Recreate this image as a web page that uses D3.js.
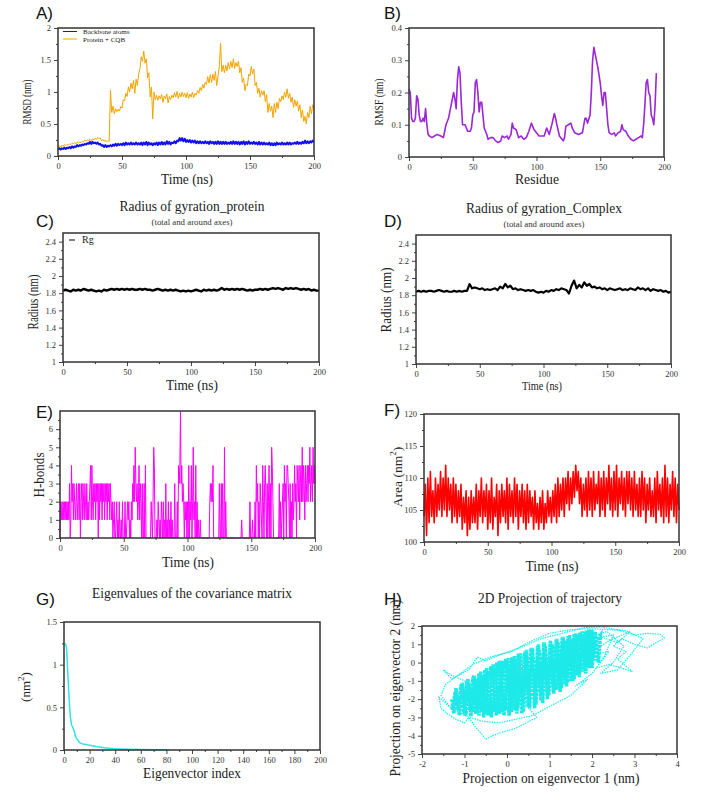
<!DOCTYPE html>
<html>
<head>
<meta charset="utf-8">
<script src="https://cdn.jsdelivr.net/npm/d3@7"></script>
<style>
body { margin: 0; background: #fff; }
.tick text { font-family: "Liberation Serif", "Times New Roman", serif; font-size: 8.5px; fill: #333; }
.tick line { stroke: #444; }
.domain { display: none; }
.frame { fill: none; stroke: #333; stroke-width: 1.5; }
.ax-title { font-family: "Liberation Serif", "Times New Roman", serif; font-size: 15px; fill: #222; text-anchor: middle; }
.plab { font-family: "Liberation Sans", Arial, sans-serif; font-size: 17px; fill: #111; }
.ptitle { font-family: "Liberation Serif", "Times New Roman", serif; font-size: 15px; fill: #222; text-anchor: middle; }
.psub { font-family: "Liberation Serif", "Times New Roman", serif; font-size: 7.5px; fill: #333; text-anchor: middle; }
.leg { font-family: "Liberation Serif", "Times New Roman", serif; font-size: 7px; fill: #222; }
</style>
</head>
<body>
<svg id="fig" width="704" height="800"></svg>
<script>
// ---- data ----
// A) RMSD, one value per ns (0..200)
var rmsdBackbone = [
    0.10,0.12,0.10,0.12,0.11,0.13,0.11,0.13,0.12,0.14,
    0.12,0.15,0.13,0.15,0.14,0.17,0.15,0.17,0.16,0.18,
    0.17,0.19,0.18,0.20,0.19,0.22,0.19,0.22,0.20,0.21,
    0.19,0.21,0.18,0.19,0.16,0.17,0.14,0.17,0.14,0.16,
    0.15,0.17,0.15,0.18,0.16,0.19,0.16,0.19,0.17,0.19,
    0.17,0.20,0.17,0.21,0.18,0.20,0.18,0.21,0.18,0.20,
    0.18,0.21,0.18,0.20,0.18,0.21,0.17,0.21,0.18,0.22,
    0.17,0.21,0.18,0.20,0.17,0.20,0.18,0.21,0.17,0.21,
    0.18,0.22,0.18,0.21,0.18,0.23,0.19,0.22,0.18,0.21,
    0.20,0.23,0.20,0.24,0.23,0.28,0.24,0.28,0.23,0.27,
    0.22,0.25,0.22,0.25,0.21,0.24,0.21,0.24,0.20,0.23,
    0.20,0.23,0.20,0.22,0.20,0.23,0.20,0.22,0.19,0.23,
    0.20,0.22,0.19,0.22,0.19,0.23,0.19,0.22,0.19,0.22,
    0.19,0.22,0.19,0.21,0.19,0.22,0.19,0.23,0.19,0.22,
    0.19,0.22,0.18,0.22,0.19,0.23,0.18,0.22,0.19,0.23,
    0.19,0.21,0.19,0.22,0.19,0.21,0.18,0.22,0.18,0.21,
    0.18,0.21,0.18,0.20,0.18,0.21,0.17,0.20,0.17,0.20,
    0.17,0.21,0.18,0.20,0.18,0.21,0.18,0.20,0.18,0.21,
    0.18,0.21,0.18,0.20,0.19,0.21,0.19,0.22,0.19,0.21,
    0.19,0.22,0.20,0.24,0.20,0.23,0.20,0.23,0.21,0.24,
    0.22
];
var rmsdComplex = [
    0.13,0.16,0.14,0.17,0.15,0.18,0.16,0.18,0.17,0.19,
    0.18,0.20,0.19,0.21,0.19,0.22,0.20,0.22,0.21,0.23,
    0.22,0.25,0.23,0.25,0.24,0.26,0.24,0.27,0.25,0.28,
    0.26,0.29,0.27,0.28,0.24,0.26,0.23,0.25,0.22,0.24,
    0.23,1.03,0.68,0.78,0.66,0.74,0.69,0.73,0.70,0.77,
    0.75,0.88,0.86,0.98,0.93,1.08,1.00,1.14,1.05,1.18,
    0.98,1.20,1.10,1.28,1.36,1.55,1.48,1.64,1.45,1.52,
    1.22,1.30,0.92,1.08,0.58,1.00,0.88,0.95,0.87,0.94,
    0.89,0.96,0.84,0.94,0.90,0.97,0.83,0.93,0.88,0.95,
    0.91,0.99,0.92,1.01,0.90,0.98,0.92,1.00,0.93,0.98,
    0.91,0.99,0.90,0.97,0.92,1.00,0.91,0.98,0.95,1.02,
    0.98,1.07,1.02,1.12,1.06,1.15,1.12,1.24,1.14,1.27,
    1.15,1.28,1.18,1.32,1.10,1.25,1.40,1.76,1.32,1.42,
    1.30,1.42,1.33,1.46,1.36,1.48,1.38,1.52,1.37,1.46,
    1.40,1.48,1.30,1.38,1.15,1.22,1.02,1.12,1.10,1.28,
    1.25,1.40,1.28,1.36,1.10,1.15,0.98,1.06,0.92,1.02,
    0.95,1.02,0.85,0.96,0.68,0.82,0.70,0.78,0.60,0.82,
    0.68,0.84,0.74,0.90,0.85,0.94,0.88,1.00,0.92,1.05,
    0.90,0.98,0.84,0.92,0.76,0.88,0.78,0.86,0.70,0.80,
    0.60,0.72,0.54,0.62,0.50,0.68,0.60,0.78,0.66,0.80,
    0.74
];

// B) RMSF per residue
var rmsfResidue = [0,1,2,3,4,5,6,7,8,9,10,11,12,13,14,15,16,18,20,22,25,27,29,31,33,35,36,37,38,39,40,41,42,44,46,48,49,50,51,52,53,54,55,56,57,58,59,60,61,62,64,66,68,70,72,73,75,77,78,80,81,82,84,86,88,90,92,94,96,98,100,102,104,106,108,110,112,114,115,116,118,120,121,122,123,125,127,128,130,133,136,138,139,140,142,143,144,145,146,148,150,151,152,153,154,155,156,157,159,161,162,164,166,167,168,170,172,174,176,178,180,182,183,184,185,186,187,188,189,190,191,192,193,194];
var rmsfValue = [0.21,0.20,0.12,0.11,0.11,0.12,0.19,0.18,0.13,0.11,0.11,0.12,0.11,0.15,0.10,0.07,0.065,0.06,0.065,0.07,0.065,0.06,0.10,0.12,0.16,0.20,0.18,0.15,0.24,0.28,0.26,0.17,0.10,0.10,0.08,0.08,0.09,0.13,0.14,0.23,0.24,0.20,0.14,0.17,0.17,0.13,0.09,0.08,0.07,0.055,0.06,0.06,0.05,0.045,0.05,0.065,0.06,0.065,0.055,0.07,0.105,0.09,0.085,0.06,0.065,0.055,0.06,0.08,0.105,0.085,0.075,0.065,0.065,0.065,0.09,0.07,0.10,0.135,0.12,0.10,0.065,0.055,0.05,0.06,0.095,0.10,0.105,0.09,0.075,0.07,0.075,0.12,0.12,0.105,0.13,0.20,0.30,0.34,0.32,0.28,0.23,0.19,0.16,0.20,0.20,0.15,0.10,0.075,0.07,0.075,0.065,0.075,0.08,0.10,0.085,0.08,0.065,0.055,0.05,0.055,0.06,0.065,0.06,0.10,0.16,0.23,0.24,0.20,0.19,0.13,0.12,0.10,0.16,0.26];

// C) and D) radius of gyration, one value per 2 ns (0..200)
var rgProtein = [
    1.83,1.84,1.83,1.82,1.84,1.83,1.84,1.83,1.85,1.84,
    1.83,1.84,1.83,1.82,1.83,1.82,1.84,1.83,1.84,1.85,
    1.84,1.85,1.84,1.85,1.84,1.85,1.84,1.85,1.84,1.84,
    1.85,1.84,1.85,1.84,1.84,1.83,1.84,1.85,1.84,1.83,
    1.84,1.83,1.84,1.83,1.84,1.83,1.82,1.83,1.82,1.83,
    1.82,1.83,1.84,1.83,1.82,1.84,1.83,1.84,1.83,1.84,
    1.83,1.84,1.86,1.84,1.85,1.84,1.85,1.84,1.85,1.84,
    1.85,1.84,1.83,1.84,1.83,1.84,1.84,1.85,1.84,1.85,
    1.84,1.85,1.86,1.85,1.86,1.85,1.84,1.86,1.85,1.86,
    1.85,1.86,1.85,1.84,1.85,1.84,1.85,1.83,1.84,1.83,
    1.83
];
var rgComplex = [
    1.84,1.85,1.84,1.85,1.84,1.85,1.85,1.84,1.85,1.86,
    1.85,1.84,1.85,1.84,1.84,1.85,1.84,1.85,1.84,1.85,
    1.85,1.93,1.88,1.89,1.88,1.87,1.88,1.86,1.87,1.86,
    1.87,1.88,1.86,1.90,1.88,1.93,1.89,1.91,1.87,1.88,
    1.86,1.87,1.86,1.85,1.86,1.85,1.86,1.84,1.83,1.84,
    1.83,1.85,1.84,1.86,1.85,1.87,1.86,1.88,1.87,1.86,
    1.82,1.91,1.97,1.88,1.92,1.89,1.95,1.91,1.93,1.89,
    1.90,1.88,1.89,1.87,1.88,1.86,1.88,1.87,1.86,1.87,
    1.88,1.86,1.87,1.86,1.88,1.87,1.86,1.89,1.87,1.88,
    1.86,1.88,1.85,1.87,1.86,1.85,1.86,1.84,1.85,1.83,
    1.84
];

// E) hydrogen bonds, one value per 0.5 ns (0..200), one row = 10 ns
var hbonds = [
    0,2,1,2,1,2,1,2,1,2, 1,2,1,2,1,3,0,1,4,2,
    3,1,3,2,1,2,3,1,2,3, 1,3,0,2,3,1,3,2,1,3,
    2,1,3,1,2,1,2,3,4,1, 4,2,1,3,2,3,1,3,2,3,
    0,3,1,3,2,3,1,3,2,3, 1,3,2,3,1,3,2,3,1,3,
    2,1,2,0,1,2,0,0,1,2, 0,1,0,2,0,0,1,0,2,0,
    0,0,2,0,0,1,2,1,2,0, 1,0,2,1,3,2,4,2,5,3,
    2,3,1,2,4,1,3,2,0,3, 0,0,3,0,4,0,0,0,0,0,
    0,0,0,2,1,0,2,5,4,0, 0,0,1,0,2,1,0,1,0,2,
    1,0,2,0,1,0,3,0,1,0, 2,0,1,0,2,0,1,0,0,0,
    3,0,0,0,2,0,4,3,4,7, 3,4,2,3,2,0,2,1,2,0,
    2,0,4,0,2,1,4,0,2,5, 1,2,0,4,0,2,0,1,0,0,
    1,0,0,0,0,0,0,0,0,0, 0,0,0,0,0,2,3,2,3,2,
    4,0,0,0,0,0,0,0,0,0, 3,0,0,3,0,3,0,0,5,0,
    2,0,0,0,0,0,0,0,0,0, 0,0,0,0,0,0,0,0,0,0,
    0,0,0,0,0,1,0,0,0,0, 0,0,0,0,0,0,0,0,2,0,
    0,0,1,0,0,0,2,0,4,2, 3,0,2,0,3,2,1,0,4,2,
    0,3,4,2,0,3,0,2,4,0, 3,0,5,4,2,0,0,0,0,0,
    0,0,0,0,3,0,2,0,1,2, 3,0,4,2,3,0,4,4,3,2,
    0,3,0,2,0,3,1,2,4,2, 3,0,4,3,2,4,1,3,4,2,
    5,2,4,3,1,4,2,3,4,2, 4,3,5,2,3,4,2,5,3,4,
    3
];

// F) SASA area (nm^2), one value per ns (0..200)
var sasa = [
    104,109,101,110,103,111,104,108,103,110,
    104,109,105,111,104,110,105,112,104,110,
    105,109,103,110,104,109,103,108,104,109,
    102,107,103,108,101,107,102,108,103,107,
    103,109,102,108,104,110,103,108,104,109,
    102,108,103,110,102,107,104,109,101,108,
    103,109,104,108,103,110,102,109,104,108,
    103,110,104,109,102,108,104,109,103,108,
    102,109,103,108,104,107,102,108,103,106,
    102,107,103,108,102,106,103,108,104,107,
    103,108,104,109,103,110,104,109,105,110,
    104,110,106,111,105,110,106,111,107,112,
    108,111,106,110,104,109,105,110,104,111,
    105,110,104,111,105,109,106,111,104,110,
    105,111,104,110,106,112,105,110,104,111,
    105,112,104,110,106,111,105,110,104,111,
    106,111,105,110,104,111,105,109,104,110,
    104,111,105,110,103,109,105,110,104,108,
    104,110,103,111,105,109,104,110,103,112,
    104,110,103,109,105,111,104,110,103,109,
    105
];

// G) eigenvalues
var eigIndex = [1,2,3,4,5,6,7,8,9,10,11,12,13,14,15,17,20,25,30,35,40,50,60,70,82];
var eigValue = [1.25,1.2,0.9,0.6,0.38,0.29,0.26,0.22,0.16,0.13,0.11,0.09,0.08,0.075,0.07,0.065,0.055,0.04,0.03,0.02,0.015,0.01,0.006,0.004,0.003];

// H) projection on eigenvectors 1 and 2 (nm): dense core, then sparse excursions
var projCore = [
    [-1.3,-2.0],[-1.25,-2.8],[-1.2,-1.4],[-1.12,-2.9],[-1.05,-1.1],[-1.0,-2.7],[-0.92,-0.9],[-0.85,-2.95],
    [-0.78,-0.7],[-0.7,-2.6],[-0.62,-0.5],[-0.55,-3.0],[-0.48,-0.3],[-0.4,-2.8],[-0.33,-0.1],[-0.25,-2.9],
    [-0.18,0.1],[-0.1,-2.7],[-0.03,0.2],[0.05,-2.9],[0.12,0.3],[0.2,-2.6],[0.27,0.5],[0.35,-2.8],
    [0.42,0.6],[0.5,-2.4],[0.57,0.8],[0.65,-2.5],[0.72,0.9],[0.8,-2.1],[0.87,1.1],[0.95,-2.0],
    [1.02,1.2],[1.1,-1.7],[1.17,1.3],[1.25,-1.6],[1.32,1.4],[1.4,-1.3],[1.47,1.5],[1.55,-1.0],
    [1.62,1.6],[1.7,-0.8],[1.77,1.7],[1.85,-0.6],[1.92,1.8],[2.0,-0.3],[2.07,1.7],[2.15,0.0],[2.2,1.5],
    [2.1,1.2],[2.02,0.3],[1.95,1.6],[1.88,-0.2],[1.8,1.4],[1.73,-0.5],[1.66,1.5],[1.58,-0.9],
    [1.5,1.3],[1.43,-1.1],[1.36,1.2],[1.28,-1.4],[1.2,1.1],[1.14,-1.5],[1.06,1.0],[0.98,-1.8],
    [0.9,0.9],[0.84,-2.2],[0.76,0.7],[0.68,-2.3],[0.6,0.6],[0.53,-2.5],[0.46,0.4],[0.38,-2.7],
    [0.3,0.3],[0.23,-2.8],[0.16,0.1],[0.08,-2.6],[0.0,0.0],[-0.07,-2.9],[-0.14,-0.2],[-0.22,-2.7],
    [-0.3,-0.3],[-0.37,-3.0],[-0.44,-0.5],[-0.52,-2.8],[-0.59,-0.7],[-0.66,-2.9],[-0.74,-0.9],[-0.82,-2.7],
    [-0.9,-1.1],[-0.97,-2.9],[-1.05,-1.3],[-1.12,-2.7],[-1.2,-1.6],[-1.28,-2.6],
    [-1.22,-1.6],[-1.15,-2.6],[-1.08,-1.2],[-1.01,-2.8],[-0.94,-1.0],[-0.87,-2.6],[-0.8,-0.8],[-0.73,-2.8],
    [-0.66,-0.6],[-0.59,-2.7],[-0.52,-0.4],[-0.45,-2.9],[-0.38,-0.2],[-0.31,-2.7],[-0.24,0.0],[-0.17,-2.8],
    [-0.1,0.1],[-0.03,-2.6],[0.04,0.25],[0.11,-2.7],[0.18,0.35],[0.25,-2.5],[0.32,0.5],[0.39,-2.6],
    [0.46,0.7],[0.53,-2.3],[0.6,0.8],[0.67,-2.2],[0.74,1.0],[0.81,-2.0],[0.88,1.05],[0.95,-1.9],
    [1.02,1.15],[1.09,-1.6],[1.16,1.25],[1.23,-1.5],[1.3,1.35],[1.37,-1.2],[1.44,1.45],[1.51,-1.0],
    [1.58,1.55],[1.65,-0.7],[1.72,1.65],[1.79,-0.5],[1.86,1.75],[1.93,-0.3],[2.0,1.8],[2.07,0.1]
];
var projTrail = [
    [-1.28,-2.6],[-1.45,-2.2],[-1.6,-1.9],[-1.55,-2.5],[-1.4,-2.8],[-1.2,-3.1],[-1.0,-3.3],[-0.9,-3.0],
    [-0.75,-3.5],[-0.6,-3.9],[-0.5,-4.2],[-0.35,-4.0],[-0.1,-3.8],[0.2,-3.6],[0.45,-3.3],[0.7,-3.0],
    [0.4,-2.2],[-0.6,-1.5],[-1.0,-1.0],[-1.3,-0.7],[-1.5,-0.4],[-1.3,-0.9],[-0.9,-0.4],[-0.7,0.3],
    [-0.5,0.1],[-0.2,0.4],[0.3,0.8],[0.8,1.3],[1.3,1.6],[1.8,1.9],[2.2,1.95],[2.6,1.8],[3.0,1.5],
    [3.3,1.6],[3.6,1.55],[3.7,1.35],[3.45,1.0],[3.3,0.8],[3.0,1.0],[2.7,1.3],[2.5,0.9],[2.8,0.6],
    [2.6,0.2],[2.95,-0.5],[2.7,-0.3],[2.4,-0.1],[2.1,-0.3],[2.3,0.4],[2.5,1.5],[2.2,1.4],
    [2.6,1.1],[2.9,1.7],[2.4,1.2],[1.9,0.4],[2.4,0.6],[2.0,-0.6],[1.6,-1.3],[1.9,-0.9],
    [1.5,-1.8],[1.0,-2.4],[0.6,-2.9],[0.2,-3.1],[-0.2,-3.3],[-0.6,-3.2],[-1.0,-2.9],[-1.35,-2.4],
    [-1.55,-1.8],[-1.45,-1.2],[-1.1,-0.6],[-0.8,-0.1],[-0.4,0.3],[0.1,0.6],[0.5,1.1],[1.0,1.6],
    [1.5,1.8],[2.0,1.85],[2.8,1.75],[3.2,1.3],[2.9,0.4],[2.6,-0.4],[2.2,-0.6],[2.5,0.0],
    [2.75,0.9],[2.35,1.7],[1.6,1.1]
];

var timeTicks = [0, 50, 100, 150, 200];
var timeMinor = [25, 75, 125, 175];

var svg = d3.select("#fig");

// builds one framed xmgrace-like panel, returns scales and a data layer
function panel(box, xd, yd, xt, xm, yt, ym) {
    var g = svg.append("g")
        .attr("transform", "translate(" + box.left + "," + box.top + ")");
    var x = d3.scaleLinear().domain(xd).range([0, box.w]);
    var y = d3.scaleLinear().domain(yd).range([box.h, 0]);

    g.append("g")
        .attr("transform", "translate(0," + box.h + ")")
        .call(d3.axisBottom(x).tickValues(xm).tickSize(2).tickFormat(""));
    g.append("g")
        .call(d3.axisLeft(y).tickValues(ym).tickSize(2).tickFormat(""));
    g.append("g")
        .attr("transform", "translate(0," + box.h + ")")
        .call(d3.axisBottom(x).tickValues(xt).tickSize(4).tickPadding(3).tickFormat(String));
    g.append("g")
        .call(d3.axisLeft(y).tickValues(yt).tickSize(4).tickPadding(3).tickFormat(String));

    var layer = g.append("g");
    g.append("rect").attr("class", "frame")
        .attr("width", box.w).attr("height", box.h);
    return { g: g, layer: layer, x: x, y: y };
}

function label(txt, x, y) {
    svg.append("text").attr("class", "plab").attr("x", x).attr("y", y).text(txt);
}

// rotated axis title, squeezed to the length seen in the figure
function yTitle(txt, x, y, size, len) {
    var t = svg.append("text").attr("class", "ax-title")
        .attr("transform", "translate(" + x + "," + y + ") rotate(-90)")
        .style("font-size", size + "px")
        .text(txt);
    if (len) t.attr("textLength", len).attr("lengthAdjust", "spacingAndGlyphs");
    return t;
}

function xTitle(txt, x, y, size, len) {
    svg.append("text").attr("class", "ax-title")
        .attr("x", x).attr("y", y)
        .style("font-size", size + "px")
        .attr("textLength", len).attr("lengthAdjust", "spacingAndGlyphs")
        .text(txt);
}

function title(cls, txt, x, y, size, len) {
    svg.append("text").attr("class", cls)
        .attr("x", x).attr("y", y)
        .style("font-size", size + "px")
        .attr("textLength", len).attr("lengthAdjust", "spacingAndGlyphs")
        .text(txt);
}

function series(p, xs, ys, color, w) {
    var line = d3.line()
        .x(function (d, i) { return p.x(xs[i]); })
        .y(function (d) { return p.y(d); });
    return p.layer.append("path")
        .datum(ys)
        .attr("fill", "none")
        .attr("stroke", color)
        .attr("stroke-width", w)
        .attr("stroke-linejoin", "round")
        .attr("d", line);
}

var t1 = d3.range(0, 201, 1);
var t2 = d3.range(0, 201, 2);
var tHalf = d3.range(0, 401).map(function (i) { return i / 2; });

// ---- A) RMSD ----
var pA = panel({ left: 58, top: 28, w: 256, h: 128 }, [0, 200], [0, 2],
    timeTicks, timeMinor, [0, 0.5, 1, 1.5, 2], [0.25, 0.75, 1.25, 1.75]);
series(pA, t1, rmsdComplex, "#f5a300", 1);
series(pA, t1, rmsdBackbone, "#1010f0", 2);
var legA = [["Backbone atoms", "#1010f0"], ["Protein + CQB", "#f5a300"]];
legA.forEach(function (d, i) {
    pA.g.append("line")
        .attr("x1", 5).attr("x2", 19)
        .attr("y1", 3.5 + i * 7.5).attr("y2", 3.5 + i * 7.5)
        .attr("stroke", d[1]).attr("stroke-width", 1);
    pA.g.append("text").attr("class", "leg")
        .attr("x", 25).attr("y", 6 + i * 7.5)
        .text(d[0]);
});
label("A)", 36, 19);
yTitle("RMSD (nm)", 31, 102, 13, 45);
xTitle("Time (ns)", 187, 184, 15, 52);

// ---- B) RMSF ----
var pB = panel({ left: 409, top: 28, w: 255, h: 129 }, [0, 200], [0, 0.4],
    timeTicks, timeMinor, [0, 0.1, 0.2, 0.3, 0.4], [0.05, 0.15, 0.25, 0.35]);
series(pB, rmsfResidue, rmsfValue, "#9b27d6", 1.6);
label("B)", 384, 19);
yTitle("RMSF (nm)", 383, 102, 13, 47);
xTitle("Residue", 537, 184, 15, 44);

// ---- C) Rg protein ----
var rgTicks = [1, 1.2, 1.4, 1.6, 1.8, 2, 2.2, 2.4];
var rgMinor = [1.1, 1.3, 1.5, 1.7, 1.9, 2.1, 2.3];
var pC = panel({ left: 63, top: 233, w: 256, h: 129 }, [0, 200], [1, 2.5],
    timeTicks, timeMinor, rgTicks, rgMinor);
series(pC, t2, rgProtein, "#000", 2.4);
pC.g.append("line").attr("x1", 6).attr("x2", 12).attr("y1", 7).attr("y2", 7)
    .attr("stroke", "#000").attr("stroke-width", 1);
pC.g.append("text").attr("class", "leg").style("font-size", "10px")
    .attr("x", 19).attr("y", 10).text("Rg");
title("ptitle", "Radius of gyration_protein", 192, 211, 15, 145);
title("psub", "(total and around axes)", 192, 225, 7.5, 81);
label("C)", 36, 227);
yTitle("Radius (nm)", 38, 302, 14, 55);
xTitle("Time (ns)", 192, 390, 15, 52);

// ---- D) Rg complex ----
var pD = panel({ left: 416, top: 235, w: 255, h: 129 }, [0, 200], [1, 2.5],
    timeTicks, timeMinor, rgTicks, rgMinor);
series(pD, t2, rgComplex, "#000", 2.2);
title("ptitle", "Radius of gyration_Complex", 544, 213, 15, 156);
title("psub", "(total and around axes)", 544, 227, 7.5, 81);
label("D)", 384, 227);
yTitle("Radius (nm)", 391, 300, 14, 65);
xTitle("Time (ns)", 542, 390, 12, 40);

// ---- E) H-bonds ----
var pE = panel({ left: 60, top: 411, w: 255, h: 127 }, [0, 200], [0, 7],
    timeTicks, timeMinor, [0, 1, 2, 3, 4, 5, 6], [0.5, 1.5, 2.5, 3.5, 4.5, 5.5, 6.5]);
series(pE, tHalf, hbonds, "#ff00ff", 1);
label("E)", 36, 418);
yTitle("H-bonds", 44, 475, 14, 45);
xTitle("Time (ns)", 188, 567, 15, 52);

// ---- F) SASA ----
var pF = panel({ left: 424, top: 414, w: 255, h: 128 }, [0, 200], [100, 120],
    timeTicks, timeMinor, [100, 105, 110, 115, 120], [102.5, 107.5, 112.5, 117.5]);
series(pF, t1, sasa, "#ff0000", 1.6);
label("F)", 384, 416);
var fy = yTitle("", 402, 477, 13.5);
fy.append("tspan").text("Area (nm");
fy.append("tspan").attr("dy", -6).style("font-size", "9px").text("2");
fy.append("tspan").attr("dy", 6).text(")");
xTitle("Time (ns)", 552, 571, 15, 53);

// ---- G) eigenvalues ----
var pG = panel({ left: 64, top: 622, w: 256, h: 128 }, [0, 200], [0, 1.5],
    d3.range(0, 201, 20), d3.range(10, 200, 20), [0, 0.5, 1, 1.5], [0.25, 0.75, 1.25]);
series(pG, eigIndex, eigValue, "#2ee6e6", 1.5);
title("ptitle", "Eigenvalues of the covariance matrix", 192, 598, 15, 200);
label("G)", 36, 605);
var gy = yTitle("", 30, 687, 13);
gy.append("tspan").text("(nm");
gy.append("tspan").attr("dy", -6).style("font-size", "9px").text("2");
gy.append("tspan").attr("dy", 6).text(")");
xTitle("Eigenvector index", 192, 778, 15, 98);

// ---- H) 2D projection ----
var pH = panel({ left: 422, top: 626, w: 255, h: 128 }, [-2, 4], [-5, 2],
    [-2, -1, 0, 1, 2, 3, 4], [-1.5, -0.5, 0.5, 1.5, 2.5, 3.5],
    [-5, -4, -3, -2, -1, 0, 1, 2], [-4.5, -3.5, -2.5, -1.5, -0.5, 0.5, 1.5]);
var projLine = d3.line()
    .x(function (d) { return pH.x(d[0]); })
    .y(function (d) { return pH.y(d[1]); });
pH.layer.append("path")
    .datum(projTrail)
    .attr("fill", "none")
    .attr("stroke", "#1ee9e9")
    .attr("stroke-width", 1.2)
    .attr("stroke-dasharray", "1.5,1")
    .attr("d", projLine);
pH.layer.append("path")
    .datum(projCore)
    .attr("fill", "none")
    .attr("stroke", "#1ee9e9")
    .attr("stroke-width", 3.6)
    .attr("stroke-dasharray", "3,0.8")
    .attr("d", projLine);
title("ptitle", "2D Projection of trajectory", 550, 603, 14, 144);
label("H)", 384, 605);
yTitle("Projection on eigenvector 2 (nm)", 400, 688, 14, 177);
xTitle("Projection on eigenvector 1 (nm)", 551, 783, 15, 177);
</script>
</body>
</html>
